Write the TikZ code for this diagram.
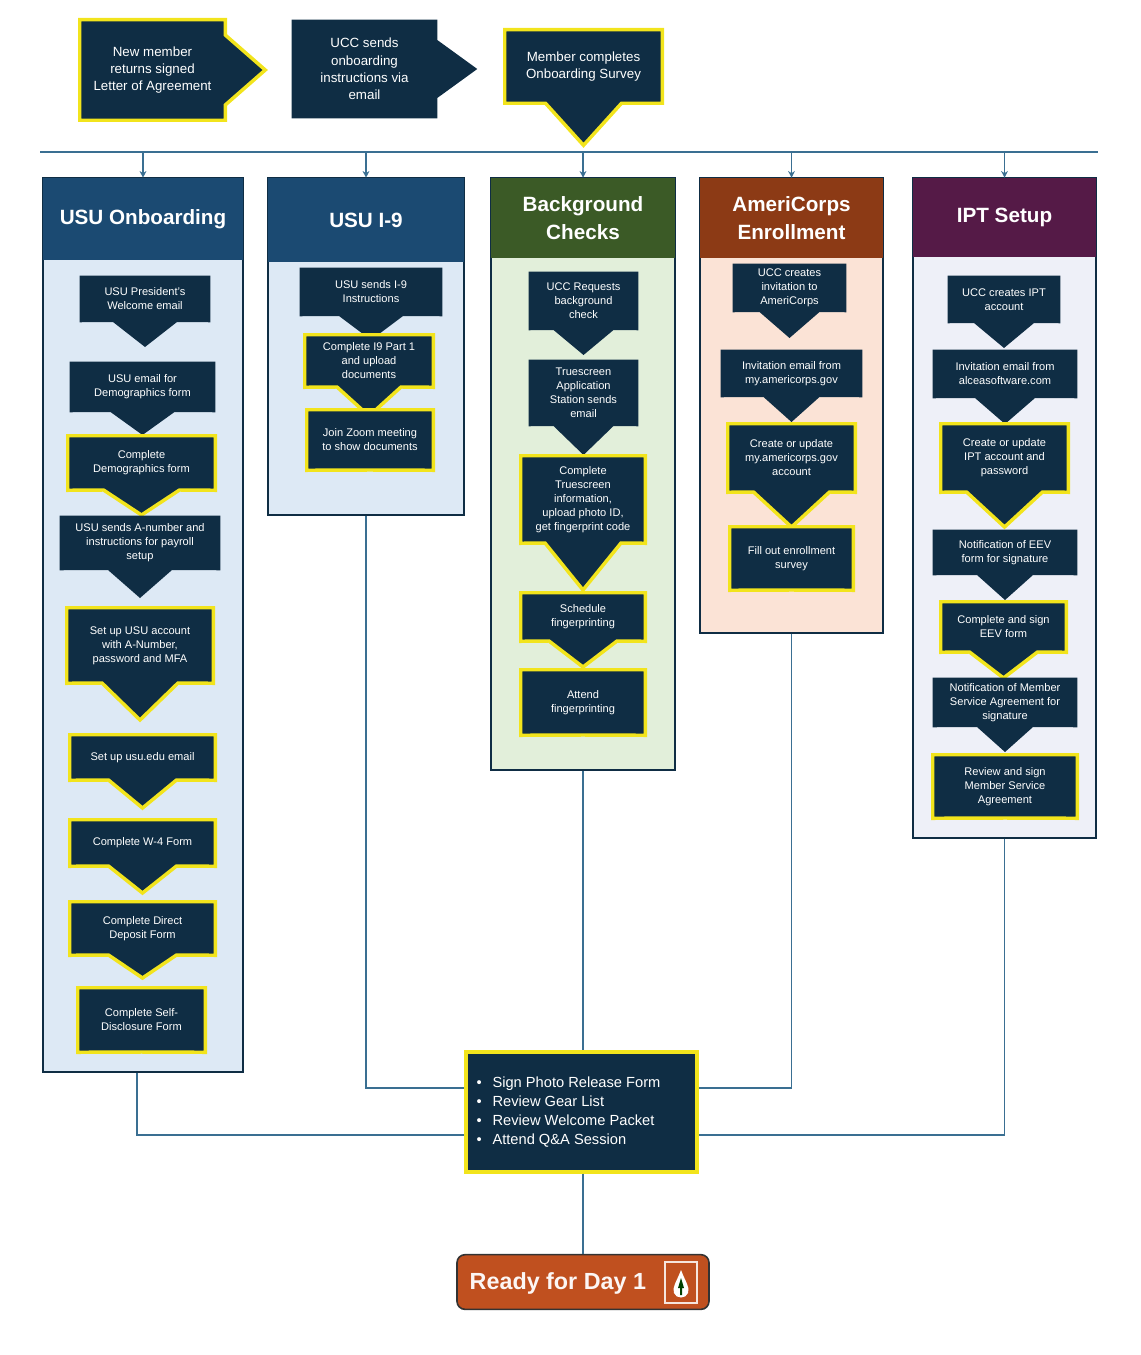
\documentclass[tikz,border=0pt]{standalone}
\usepackage{fontspec}
\setmainfont{Liberation Sans}
\usetikzlibrary{arrows.meta,calc}
\definecolor{navy}{HTML}{0F2D44}
\definecolor{ylw}{HTML}{F2E41C}
\definecolor{lnc}{HTML}{3A6F92}
\definecolor{h1c}{HTML}{1B4A72}
\definecolor{h3c}{HTML}{3B5A26}
\definecolor{h4c}{HTML}{8C3A15}
\definecolor{h5c}{HTML}{551A47}
\definecolor{b1c}{HTML}{DDE9F5}
\definecolor{b3c}{HTML}{E2EFDA}
\definecolor{b4c}{HTML}{FBE3D6}
\definecolor{b5c}{HTML}{EEF0F8}
\definecolor{rdy}{HTML}{C0501F}
\pgfdeclarelayer{panels}\pgfdeclarelayer{shapes}
\pgfsetlayers{panels,shapes,main}
\tikzset{
 txt/.style={text=white,align=center,inner sep=0pt,font=\fontsize{8.3}{10.5}\selectfont},
 hl/.style={fill=navy,draw=ylw,line width=2.6pt,line join=miter},
 pl/.style={fill=navy},
 conn/.style={draw=lnc,line width=1pt},
 hd/.style={text=white,align=center,font=\bfseries\fontsize{15.5}{21}\selectfont,inner sep=0pt},
 body/.style={draw=navy,line width=0.8pt,inner sep=0pt},
}
% name,x1,y1,x2,y2,halfwidth,tip y,style,text
\newcommand\fb[9]{%
 \node[txt,minimum width={(#4-#2)*0.75pt},minimum height={(#5-#3)*0.75pt}] (#1) at ({(#2+#4)/2},{(#3+#5)/2}) {#9};
 \begin{pgfonlayer}{shapes}
 \path[#8] (#1.north west) -- (#1.north east) -- (#1.south east) -- ({(#2+#4)/2+#6},#5) -- ({(#2+#4)/2},#7) -- ({(#2+#4)/2-#6},#5) -- (#1.south west) -- cycle;
 \end{pgfonlayer}}
% panel: name,x1,y1,x2,yh,y2,headcolor,bodycolor,title
\newcommand\pn[9]{%
 \begin{pgfonlayer}{panels}
 \node[body,fill=#8,minimum width={(#4-#2)*0.75pt},minimum height={(#6-#3)*0.75pt}] (#1) at ({(#2+#4)/2},{(#3+#6)/2}) {};
 \node[hd,fill=#7,minimum width={(#4-#2)*0.75pt},minimum height={(#5-#3)*0.75pt}] (#1h) at ({(#2+#4)/2},{(#3+#5)/2}) {#9};
 \end{pgfonlayer}}
\begin{document}
\begin{tikzpicture}[x=0.75pt,y=-0.75pt]
\useasboundingbox (0,0) rectangle (1140,1355);
% top row
\node[txt,font=\fontsize{10}{13}\selectfont,minimum width=108.75pt,minimum height=75pt] (t1) at (152.5,70) {New member\\returns signed\\Letter of Agreement};
\node[txt,font=\fontsize{10}{13}\selectfont,minimum width=108.75pt,minimum height=73.5pt] (t2) at (364.5,69) {UCC sends\\onboarding\\instructions via\\email};
\node[txt,font=\fontsize{10}{13}\selectfont,minimum width=117.75pt,minimum height=54.75pt] (t3) at (583.5,66.5) {Member completes\\Onboarding Survey};
\begin{pgfonlayer}{shapes}
\path[hl] (t1.north west) -- (t1.north east) -- ($(t1.east)+(0,-35)$) -- ($(t1.east)+(40,0)$) -- ($(t1.east)+(0,35)$) -- (t1.south east) -- (t1.south west) -- cycle;
\path[pl] (t2.north west) -- (t2.north east) -- ($(t2.east)+(0,-29)$) -- ($(t2.east)+(40,0)$) -- ($(t2.east)+(0,29)$) -- (t2.south east) -- (t2.south west) -- cycle;
\path[hl] (t3.north west) -- (t3.north east) -- (t3.south east) -- ($(t3.south)+(38,0)$) -- ($(t3.south)+(0,42)$) -- ($(t3.south)+(-38,0)$) -- (t3.south west) -- cycle;
\end{pgfonlayer}
\coordinate (L) at (40,152); \coordinate (R) at (1098,152);
\draw[conn] (L) -- (R);
% panels
\pn{c1}{43}{178}{243}{260}{1072}{h1c}{b1c}{USU Onboarding}
\pn{c2}{268}{178}{464}{262}{515}{h1c}{b1c}{USU I-9}
\pn{c3}{491}{178}{675}{258}{770}{h3c}{b3c}{Background\\Checks}
\pn{c4}{700}{178}{883}{258}{633}{h4c}{b4c}{AmeriCorps\\Enrollment}
\pn{c5}{913}{178}{1096}{257}{838}{h5c}{b5c}{IPT Setup}
\foreach \c in {c1,c2,c3,c4,c5}
 \draw[conn,-{Stealth[length=5pt,width=5pt]}] (\c h.north |- L) -- (\c h.north);
% column 1
\fb{a1}{80}{276}{210}{322}{32}{347}{pl}{USU President's\\Welcome email}
\fb{a2}{70}{362}{215}{412}{32}{435}{pl}{USU email for\\Demographics form}
\fb{a3}{68}{436}{215}{490}{38}{515}{hl}{Complete\\Demographics form}
\fb{a4}{60}{516}{220}{570}{32}{598}{pl}{USU sends A-number and\\instructions for payroll\\setup}
\fb{a5}{67}{608}{213}{683}{38}{720}{hl}{Set up USU account\\with A-Number,\\password and MFA}
\fb{a6}{70}{735}{215}{780}{34}{808}{hl}{Set up usu.edu email}
\fb{a7}{70}{820}{215}{866}{34}{893}{hl}{Complete W-4 Form}
\fb{a8}{70}{902}{215}{955}{34}{978}{hl}{Complete Direct\\Deposit Form}
\fb{a9}{78}{988}{205}{1052}{0}{1052}{hl}{Complete Self-\\Disclosure Form}
% column 2
\fb{b1}{300}{268}{442}{316}{32}{340}{pl}{USU sends I-9\\Instructions}
\fb{b2}{305}{335}{433}{387}{32}{416}{hl}{Complete I9 Part 1\\and upload\\documents}
\fb{b3}{307}{410}{433}{470}{0}{470}{hl}{Join Zoom meeting\\to show documents}
% column 3
\fb{d1}{529}{272}{638}{330}{30}{355}{pl}{UCC Requests\\background\\check}
\fb{d2}{529}{360}{638}{426}{30}{455}{pl}{Truescreen\\Application\\Station sends\\email}
\fb{d3}{521}{456}{645}{543}{38}{590}{hl}{Complete\\Truescreen\\information,\\upload photo ID,\\get fingerprint code}
\fb{d4}{521}{593}{645}{641}{34}{667}{hl}{Schedule\\fingerprinting}
\fb{d5}{521}{670}{645}{735}{0}{735}{hl}{Attend\\fingerprinting}
% column 4
\fb{e1}{733}{264}{846}{312}{30}{338}{pl}{UCC creates\\invitation to\\AmeriCorps}
\fb{e2}{721}{350}{862}{397}{28}{422}{pl}{Invitation email from\\my.americorps.gov}
\fb{e3}{728}{424}{855}{492}{38}{527}{hl}{Create or update\\my.americorps.gov\\account}
\fb{e4}{730}{527}{853}{590}{0}{590}{hl}{Fill out enrollment\\survey}
% column 5
\fb{f1}{948}{276}{1060}{323}{30}{348}{pl}{UCC creates IPT\\account}
\fb{f2}{933}{350}{1077}{398}{30}{424}{pl}{Invitation email from\\alceasoftware.com}
\fb{f3}{941}{424}{1068}{492}{38}{527}{hl}{Create or update\\IPT account and\\password}
\fb{f4}{933}{530}{1077}{575}{28}{600}{pl}{Notification of EEV\\form for signature}
\fb{f5}{941}{602}{1066}{652}{34}{678}{hl}{Complete and sign\\EEV form}
\fb{f6}{933}{678}{1077}{727}{28}{752}{pl}{Notification of Member\\Service Agreement for\\signature}
\fb{f7}{933}{755}{1077}{818}{0}{818}{hl}{Review and sign\\Member Service\\Agreement}
% final box
\node[hl,text=white,minimum width=173pt,minimum height=90pt,inner sep=0pt] (fin) at (581.5,1112) {};
\node[text=white,align=left,font=\fontsize{11}{14.3}\selectfont,anchor=north west] (bl) at (472,1072)
 {\textbullet\hspace{8pt}Sign Photo Release Form\\\textbullet\hspace{8pt}Review Gear List\\\textbullet\hspace{8pt}Review Welcome Packet\\\textbullet\hspace{8pt}Attend Q\&A Session};
\coordinate (ya) at (0,1088); \coordinate (yb) at (0,1135);
\draw[conn] ([xshift=-4.5pt]c1.south) |- (fin.west |- yb);
\draw[conn] (c2.south) |- (fin.west |- ya);
\draw[conn] (c3.south) -- (fin.north -| c3.south);
\draw[conn] (c4.south) |- (fin.east |- ya);
\draw[conn] (c5.south) |- (fin.east |- yb);
% ready
\node[fill=rdy,draw=black!80,line width=1.2pt,rounded corners=6pt,minimum width=189pt,minimum height=41pt,inner sep=0pt] (rdy) at (583,1282) {};
\node[text=white!95!rdy,font=\bfseries\fontsize{17.5}{20}\selectfont,anchor=west] (rt) at (465,1283) {Ready for Day 1};
\draw[conn] (fin.south -| c3.south) -- (rdy.north -| c3.south);
\draw[white!85!rdy,line width=1.2pt] (665,1262) rectangle (697,1303);
\fill[white] (681,1270) .. controls (676,1283) and (672,1287) .. (674,1293) .. controls (676,1299) and (686,1299) .. (688,1293) .. controls (690,1287) and (686,1283) .. (681,1270) -- cycle;
\fill[green!25!black] (681,1278) -- (684,1288) -- (682,1288) -- (682,1295) -- (680,1295) -- (680,1288) -- (678,1288) -- cycle;
\end{tikzpicture}
\end{document}
